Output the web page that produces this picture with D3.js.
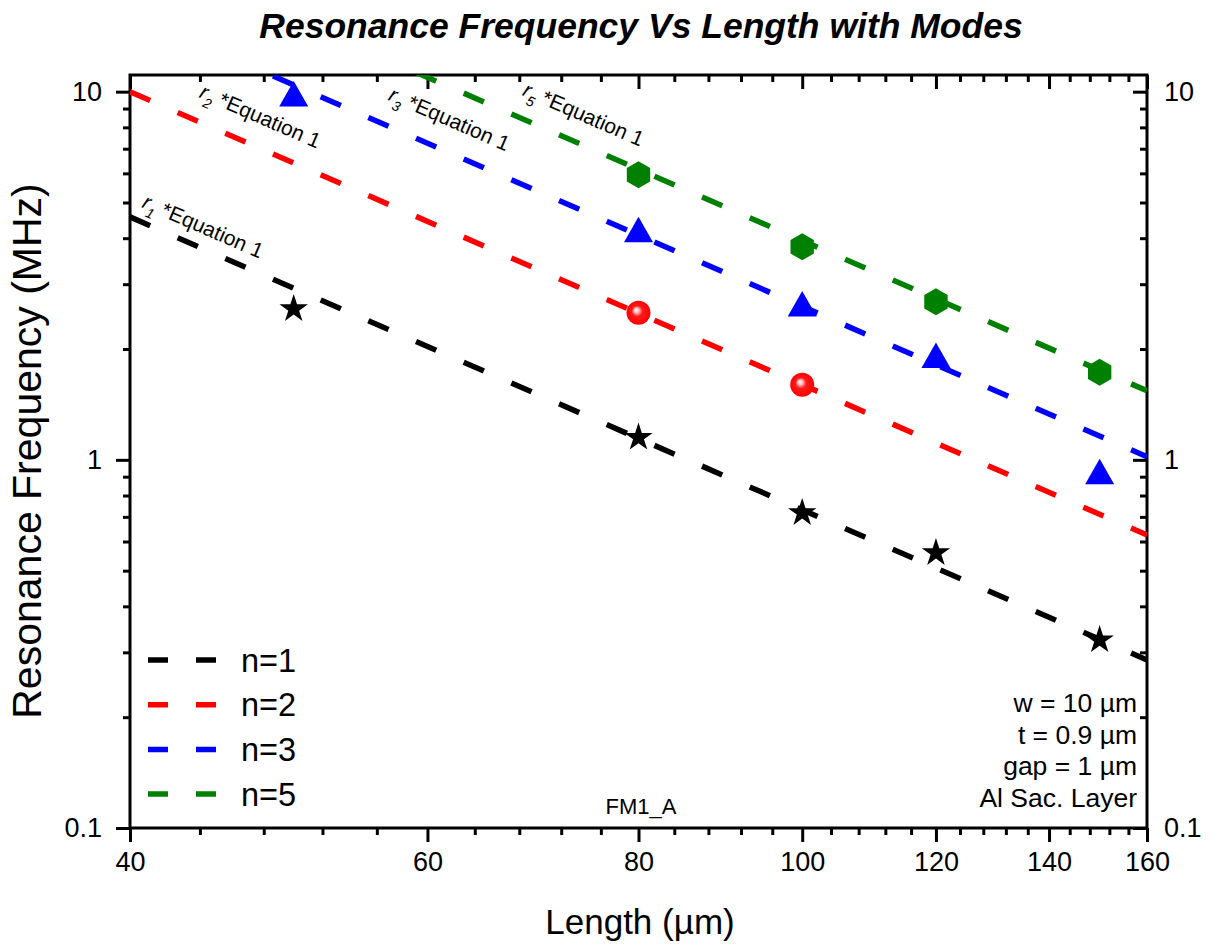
<!DOCTYPE html>
<html>
<head>
<meta charset="utf-8">
<script src="https://cdn.jsdelivr.net/npm/d3@7"></script>
<style>
  body { margin: 0; background: #fff; }
  svg text { font-family: "Liberation Sans", Arial, sans-serif; fill: #000; }
</style>
</head>
<body>
<svg id="chart" width="1212" height="947"></svg>
<script>
// Fitted lines r_n * Equation 1, read at L = 40 and L = 160
let lineL = [40, 160];
let eqN1 = [4.57, 0.286];
let eqN2 = [10.0, 0.625];
let eqN3 = [16.3, 1.02];
let eqN5 = [24.6, 1.54];

// Measured points
let n1L = [50, 80, 100, 120, 150];
let n1F = [2.57, 1.15, 0.718, 0.559, 0.324];
let n2L = [80, 100];
let n2F = [2.51, 1.60];
let n3L = [50, 80, 100, 120, 150];
let n3F = [9.85, 4.22, 2.65, 1.92, 0.928];
let n5L = [80, 100, 120, 150];
let n5F = [5.95, 3.79, 2.69, 1.73];

let xTicks = [40, 60, 80, 100, 120, 140, 160];
let yTicks = [0.1, 1, 10];
let legendNames = ["n=1", "n=2", "n=3", "n=5"];
let colors = ["#000000", "#ff0000", "#0000ff", "#008000"];

// labels next to the lines (data coordinates of text start)
let eqLabelL = [40.6, 43.9, 56.8, 68.2];
let eqLabelF = [4.86, 9.67, 9.51, 9.79];
let eqLabelSub = ["1", "2", "3", "5"];

let infoLines = ["w = 10 \u00b5m", "t = 0.9 \u00b5m", "gap = 1 \u00b5m", "Al Sac. Layer"];

let svg = d3.select("#chart");
let pLeft = 130, pRight = 1147, pTop = 75, pBottom = 828;

let x = d3.scaleLog().domain([40, 160]).range([pLeft, pRight]);
let y = d3.scaleLog().domain([0.1, 11.1]).range([pBottom, pTop]);

let defs = svg.append("defs");
defs.append("clipPath").attr("id", "clip")
  .append("rect").attr("x", pLeft).attr("y", pTop)
  .attr("width", pRight - pLeft).attr("height", pBottom - pTop);

let grad = defs.append("radialGradient").attr("id", "ball")
  .attr("cx", "0.5").attr("cy", "0.5").attr("r", "0.5")
  .attr("fx", "0.4").attr("fy", "0.38");
grad.append("stop").attr("offset", "0").attr("stop-color", "#ffffff");
grad.append("stop").attr("offset", "0.18").attr("stop-color", "#ffc8c8");
grad.append("stop").attr("offset", "0.45").attr("stop-color", "#ff1a1a");
grad.append("stop").attr("offset", "1").attr("stop-color", "#ff0000");

// Title
svg.append("text").attr("x", 641).attr("y", 38).attr("text-anchor", "middle")
  .style("font-size", "35.5px").style("font-weight", "bold").style("font-style", "italic")
  .text("Resonance Frequency Vs Length with Modes");

// Axis titles
svg.append("text").attr("x", 640).attr("y", 934).attr("text-anchor", "middle")
  .style("font-size", "35px").text("Length (\u00b5m)");
svg.append("text").attr("transform", "translate(41,451) rotate(-90)")
  .attr("text-anchor", "middle").style("font-size", "41px")
  .text("Resonance Frequency (MHz)");

// Minor tick values
let xMinor = d3.range(44, 160, 4).filter(v => !xTicks.includes(v));
let yMinor = [];
[0.1, 1].forEach(dec => { for (let k = 2; k <= 9; k++) yMinor.push(+(dec * k).toFixed(2)); });

function styleAxis(g) {
  g.select(".domain").remove();
  g.selectAll(".tick line").attr("stroke", "#000").attr("stroke-width", 3);
  g.selectAll(".tick text").style("font-size", "27px").attr("fill", "#000")
    .style("font-family", "'Liberation Sans', Arial, sans-serif");
}

// bottom
svg.append("g").attr("transform", `translate(0,${pBottom})`)
  .call(d3.axisBottom(x).tickValues(xTicks).tickSize(14).tickPadding(10).tickFormat(d3.format("d")))
  .call(styleAxis);
svg.append("g").attr("transform", `translate(0,${pBottom})`)
  .call(d3.axisBottom(x).tickValues(xMinor).tickSize(7).tickFormat(""))
  .call(styleAxis);
// top (ticks inward)
svg.append("g").attr("transform", `translate(0,${pTop})`)
  .call(d3.axisBottom(x).tickValues(xTicks).tickSize(14).tickFormat(""))
  .call(styleAxis);
svg.append("g").attr("transform", `translate(0,${pTop})`)
  .call(d3.axisBottom(x).tickValues(xMinor).tickSize(7).tickFormat(""))
  .call(styleAxis);
// left
svg.append("g").attr("transform", `translate(${pLeft},0)`)
  .call(d3.axisLeft(y).tickValues(yTicks).tickSize(14).tickPadding(14).tickFormat(d => d3.format("~g")(d)))
  .call(styleAxis);
svg.append("g").attr("transform", `translate(${pLeft},0)`)
  .call(d3.axisLeft(y).tickValues(yMinor).tickSize(7).tickFormat(""))
  .call(styleAxis);
// right (ticks inward, labels outside)
svg.append("g").attr("transform", `translate(${pRight},0)`)
  .call(d3.axisLeft(y).tickValues(yTicks).tickSize(14).tickFormat(""))
  .call(styleAxis);
svg.append("g").attr("transform", `translate(${pRight},0)`)
  .call(d3.axisLeft(y).tickValues(yMinor).tickSize(7).tickFormat(""))
  .call(styleAxis);
svg.append("g").attr("transform", `translate(${pRight},0)`)
  .call(d3.axisRight(y).tickValues(yTicks).tickSize(0).tickPadding(17).tickFormat(d => d3.format("~g")(d)))
  .call(styleAxis);

// frame
svg.append("rect").attr("x", pLeft).attr("y", pTop)
  .attr("width", pRight - pLeft).attr("height", pBottom - pTop)
  .attr("fill", "none").attr("stroke", "#000").attr("stroke-width", 3);

// lines
let lineGen = d3.line().x(d => x(d[0])).y(d => y(d[1]));
let lines = [eqN1, eqN2, eqN3, eqN5];
let plot = svg.append("g").attr("clip-path", "url(#clip)");
lines.forEach((vals, i) => {
  plot.append("path")
    .datum(lineL.map((l, j) => [l, vals[j]]))
    .attr("d", lineGen)
    .attr("fill", "none")
    .attr("stroke", colors[i])
    .attr("stroke-width", 5.5)
    .attr("stroke-dasharray", "22,30");
});

// line labels
let ang = Math.atan2(y(eqN1[1]) - y(eqN1[0]), x(lineL[1]) - x(lineL[0])) * 180 / Math.PI;
eqLabelL.forEach((l, i) => {
  let t = svg.append("text")
    .attr("transform", `translate(${x(l)},${y(eqLabelF[i])}) rotate(${ang})`)
    .style("font-size", "21px");
  t.append("tspan").style("font-style", "italic").text("r");
  t.append("tspan").attr("dy", 7).style("font-size", "14px").style("font-style", "italic").text(eqLabelSub[i]);
  t.append("tspan").attr("dy", -7).text(" *Equation 1");
});

// markers
let star = d3.symbol().type(d3.symbolStar).size(250);
plot.selectAll(".n1").data(n1L).join("path")
  .attr("transform", (d, i) => `translate(${x(d)},${y(n1F[i])})`)
  .attr("d", star).attr("fill", "#000");

plot.selectAll(".n2").data(n2L).join("circle")
  .attr("cx", d => x(d)).attr("cy", (d, i) => y(n2F[i]))
  .attr("r", 12).attr("fill", "url(#ball)");

let tri = "M0,-13L14.5,12.5L-14.5,12.5Z";
plot.selectAll(".n3").data(n3L).join("path")
  .attr("transform", (d, i) => `translate(${x(d)},${y(n3F[i])})`)
  .attr("d", tri).attr("fill", "#0000ff");

let hexPts = d3.range(6).map(k => {
  let a = (-90 + 60 * k) * Math.PI / 180;
  return [13.5 * Math.cos(a), 13.5 * Math.sin(a)];
});
let hex = "M" + hexPts.map(p => p.join(",")).join("L") + "Z";
plot.selectAll(".n5").data(n5L).join("path")
  .attr("transform", (d, i) => `translate(${x(d)},${y(n5F[i])})`)
  .attr("d", hex).attr("fill", "#008000");

// legend
let legend = svg.append("g");
legendNames.forEach((name, i) => {
  let ly = 660 + i * 44.7;
  legend.append("line").attr("x1", 148).attr("x2", 216).attr("y1", ly).attr("y2", ly)
    .attr("stroke", colors[i]).attr("stroke-width", 5.5).attr("stroke-dasharray", "20,28");
  legend.append("text").attr("x", 241).attr("y", ly).attr("dy", "0.36em")
    .style("font-size", "32.5px").text(name);
});

// info block
infoLines.forEach((s, i) => {
  svg.append("text").attr("x", 1137).attr("y", 712 + i * 31.5).attr("text-anchor", "end")
    .style("font-size", "26.5px").text(s);
});

svg.append("text").attr("x", 641).attr("y", 814).attr("text-anchor", "middle")
  .style("font-size", "22px").text("FM1_A");
</script>
</body>
</html>
